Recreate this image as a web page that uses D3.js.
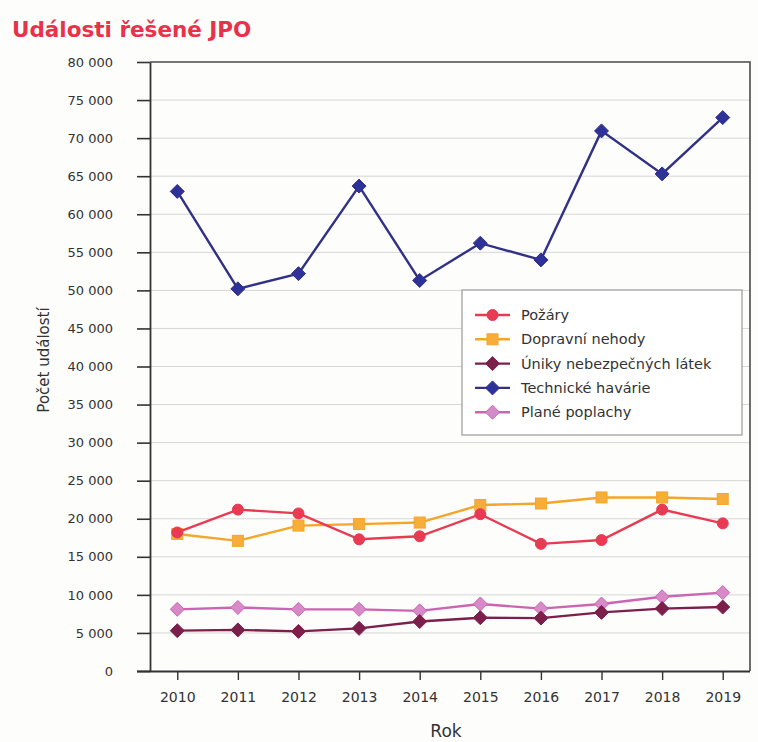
<!DOCTYPE html>
<html>
<head>
<meta charset="utf-8">
<script src="https://cdn.jsdelivr.net/npm/d3@7"></script>
<style>
  html, body { margin: 0; padding: 0; background: #fdfdfc; }
  svg { display: block; }
</style>
</head>
<body>
<svg id="chart" width="758" height="742"></svg>
<script>
// Years on the horizontal axis
const years = ["2010","2011","2012","2013","2014","2015","2016","2017","2018","2019"];

// Event counts per year
const pozary     = [18200, 21200, 20700, 17300, 17700, 20600, 16700, 17200, 21200, 19400];
const dopravni   = [18000, 17100, 19100, 19300, 19500, 21800, 22000, 22800, 22800, 22600];
const uniky      = [5300, 5400, 5200, 5600, 6500, 7000, 6950, 7700, 8200, 8400];
const technicke  = [63000, 50200, 52200, 63700, 51300, 56200, 54000, 70950, 65300, 72700];
const plane      = [8100, 8350, 8100, 8100, 7900, 8800, 8200, 8800, 9750, 10300];

const seriesNames = ["Požáry", "Dopravní nehody", "Úniky nebezpečných látek", "Technické havárie", "Plané poplachy"];
const yTicks = d3.range(0, 80001, 5000);

const series = [
  { name: seriesNames[0], values: pozary,    line: "#e83a52", fill: "#e83a52", shape: "circle" },
  { name: seriesNames[1], values: dopravni,  line: "#f5a52a", fill: "#f7ad3a", shape: "square" },
  { name: seriesNames[2], values: uniky,     line: "#7c1f4b", fill: "#7c1f4b", shape: "diamond" },
  { name: seriesNames[3], values: technicke, line: "#303088", fill: "#2e3197", shape: "diamond" },
  { name: seriesNames[4], values: plane,     line: "#cc64b4", fill: "#d889c8", shape: "diamond" }
];
// draw order: lower series first so the blue sits on top
const drawOrder = [4, 2, 1, 0, 3];

const svg = d3.select("#chart");
const font = "DejaVu Sans, sans-serif";

const plot = { left: 150, right: 750, top: 62, bottom: 671 };

const x = d3.scalePoint().domain(years).range([plot.left, plot.right]).padding(0.45);
const y = d3.scaleLinear().domain([0, 80000]).range([plot.bottom, plot.top]);

// Title
svg.append("text")
  .attr("x", 12).attr("y", 37)
  .attr("font-family", font).attr("font-weight", "bold")
  .attr("font-size", 21.5).attr("fill", "#e8324a")
  .text("Události řešené JPO");

// Gridlines
svg.append("g")
  .selectAll("line")
  .data(yTicks.filter(t => t > 0 && t < 80000))
  .join("line")
  .attr("x1", plot.left).attr("x2", plot.right)
  .attr("y1", d => y(d)).attr("y2", d => y(d))
  .attr("stroke", "#d6d6d6").attr("stroke-width", 1);

// Plot frame (top and right)
svg.append("path")
  .attr("d", `M${plot.left},${plot.top}H${plot.right}V${plot.bottom}`)
  .attr("fill", "none").attr("stroke", "#4a4a4a").attr("stroke-width", 1.6);

// Y axis
const fmt = v => d3.format(",")(v).replace(/,/g, " ");
const yAxis = svg.append("g")
  .attr("transform", `translate(${plot.left},0)`)
  .call(d3.axisLeft(y).tickValues(yTicks).tickFormat(fmt).tickSize(13).tickSizeOuter(0).tickPadding(24));
yAxis.select(".domain").attr("stroke", "#333").attr("stroke-width", 1.8);
yAxis.selectAll(".tick line").attr("stroke", "#333").attr("stroke-width", 1.6);
yAxis.selectAll(".tick text").attr("font-family", font).attr("font-size", 13).attr("fill", "#333");

// X axis
const xAxis = svg.append("g")
  .attr("transform", `translate(0,${plot.bottom})`)
  .call(d3.axisBottom(x).tickSize(9).tickSizeOuter(0).tickPadding(12));
xAxis.select(".domain").attr("stroke", "#333").attr("stroke-width", 1.8)
  .attr("d", `M${plot.left - 13},0.5H${plot.right}`);
xAxis.selectAll(".tick line").attr("stroke", "#333").attr("stroke-width", 1.4);
xAxis.selectAll(".tick text").attr("font-family", font).attr("font-size", 14).attr("fill", "#333");

// Axis titles
svg.append("text")
  .attr("transform", `translate(49,${360}) rotate(-90)`)
  .attr("text-anchor", "middle")
  .attr("font-family", font).attr("font-size", 15).attr("fill", "#333")
  .text("Počet událostí");
svg.append("text")
  .attr("x", 446).attr("y", 737)
  .attr("text-anchor", "middle")
  .attr("font-family", font).attr("font-size", 17).attr("fill", "#333")
  .text("Rok");

// Marker shapes
function marker(g, s, cx, cy, scale) {
  const k = scale || 1;
  if (s.shape === "circle") {
    g.append("circle").attr("cx", cx).attr("cy", cy).attr("r", 5.5 * k)
      .attr("fill", s.fill).attr("stroke", s.line).attr("stroke-width", 1);
  } else if (s.shape === "square") {
    const h = 5.5 * k;
    g.append("rect").attr("x", cx - h).attr("y", cy - h).attr("width", 2 * h).attr("height", 2 * h)
      .attr("fill", s.fill).attr("stroke", s.line).attr("stroke-width", 1);
  } else {
    const h = 7 * k;
    g.append("path").attr("d", `M${cx},${cy - h}L${cx + h},${cy}L${cx},${cy + h}L${cx - h},${cy}Z`)
      .attr("fill", s.fill).attr("stroke", s.line).attr("stroke-width", 1);
  }
}

const line = d3.line().x((d, i) => x(years[i])).y(d => y(d));

drawOrder.forEach(idx => {
  const s = series[idx];
  const g = svg.append("g");
  g.append("path").attr("d", line(s.values))
    .attr("fill", "none").attr("stroke", s.line).attr("stroke-width", 2.4);
  s.values.forEach((v, i) => marker(g, s, x(years[i]), y(v)));
});

// Legend
const lg = svg.append("g").attr("transform", "translate(462,290)");
lg.append("rect").attr("width", 280).attr("height", 145)
  .attr("fill", "#fff").attr("stroke", "#9a9a9a").attr("stroke-width", 1.2);
series.forEach((s, i) => {
  const cy = 25 + i * 24.3;
  const row = lg.append("g");
  row.append("line").attr("x1", 13).attr("x2", 48).attr("y1", cy).attr("y2", cy)
    .attr("stroke", s.line).attr("stroke-width", 2.4);
  marker(row, s, 30.5, cy, 1);
  row.append("text").attr("x", 59).attr("y", cy + 5)
    .attr("font-family", font).attr("font-size", 14.5).attr("fill", "#333")
    .text(s.name);
});
</script>
</body>
</html>
